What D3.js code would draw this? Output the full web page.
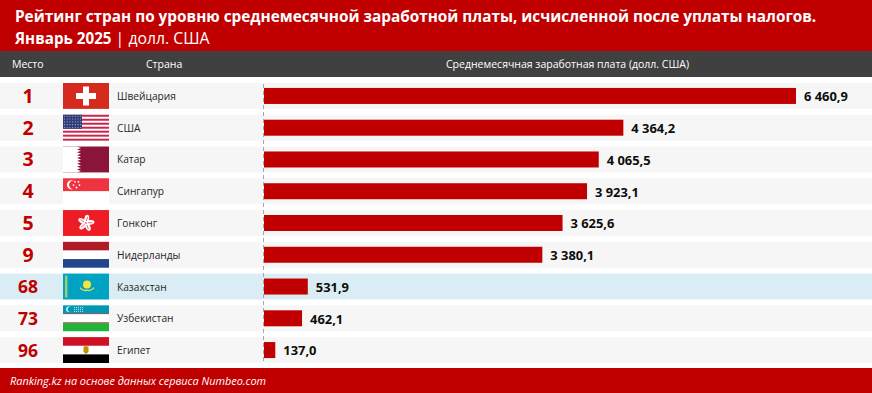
<!DOCTYPE html>
<html><head><meta charset="utf-8">
<script src="https://cdn.jsdelivr.net/npm/d3@7"></script>
<style>
html,body{margin:0;padding:0;background:#fff}
svg{display:block}
text{font-family:"Open Sans","Noto Sans",sans-serif}
</style></head><body>
<svg id="c" width="872" height="393"></svg>
<script>
const titleLine1 = "Рейтинг стран по уровню среднемесячной заработной платы, исчисленной после уплаты налогов.";
const titleBold2 = "Январь 2025";
const titleLight2 = " | долл. США";
const headers = ["Место", "Страна", "Среднемесячная заработная плата (долл. США)"];
const footer = "Ranking.kz на основе данных сервиса Numbeo.com";
const ranks = [1, 2, 3, 4, 5, 9, 68, 73, 96];
const countries = ["Швейцария", "США", "Катар", "Сингапур", "Гонконг", "Нидерланды", "Казахстан", "Узбекистан", "Египет"];
const wages = [6460.9, 4364.2, 4065.5, 3923.1, 3625.6, 3380.1, 531.9, 462.1, 137.0];
const labels = ["6 460,9", "4 364,2", "4 065,5", "3 923,1", "3 625,6", "3 380,1", "531,9", "462,1", "137,0"];
const highlighted = "Казахстан";

const svg = d3.select("#c");
const RED = "#c00000", DARK = "#404040";

svg.append("rect").attr("width", 872).attr("height", 51).attr("fill", RED);
svg.append("rect").attr("y", 51).attr("width", 872).attr("height", 26).attr("fill", DARK);
svg.append("rect").attr("y", 368).attr("width", 872).attr("height", 25).attr("fill", RED);

svg.append("text").attr("x", 15).attr("y", 22).attr("fill", "#fff").attr("font-weight", 700)
  .attr("font-size", 15.33).text(titleLine1);
const t2 = svg.append("text").attr("x", 15).attr("y", 44).attr("fill", "#fff").attr("font-size", 15.2);
t2.append("tspan").attr("font-weight", 700).text(titleBold2);
t2.append("tspan").attr("font-weight", 400).attr("font-size", 15.8).text(titleLight2);

const hdrX = [12, 146, 446];
svg.selectAll(".hdr").data(headers).join("text").attr("class", "hdr")
  .attr("x", (d, i) => hdrX[i]).attr("y", 68).attr("fill", "#fff").attr("font-size", 10.5).text(d => d);

const y = d3.scaleBand().domain(countries).range([83, 363]).paddingInner(0.185);
const x = d3.scaleLinear().domain([0, 6460.9]).range([264, 796]);

const row = svg.selectAll(".row").data(countries).join("g").attr("class", "row")
  .attr("transform", d => `translate(0,${y(d)})`);
const bw = y.bandwidth();

row.append("rect").attr("width", 872).attr("height", bw)
  .attr("fill", d => d === highlighted ? "#daedf4" : "#f6f6f6");
row.append("text").attr("x", 28).attr("y", (d, i) => bw / 2 + (ranks[i] > 9 ? 6.5 : 7))
  .attr("text-anchor", "middle")
  .attr("fill", RED).attr("font-weight", 700)
  .attr("font-size", (d, i) => ranks[i] > 9 ? 17.5 : 19.5)
  .text((d, i) => ranks[i]);
row.append("text").attr("x", 117).attr("y", bw / 2 + 4).attr("fill", "#262626")
  .attr("font-size", 10.2).text(d => d);

// flags
const flagStripes = {
  "Швейцария": ["#d52b1e"],
  "США": ["#c8264a", "#fff", "#c8264a", "#fff", "#c8264a", "#fff", "#c8264a", "#fff", "#c8264a", "#fff", "#c8264a", "#fff", "#c8264a"],
  "Катар": ["#8a1538"],
  "Сингапур": ["#ef3340", "#fff"],
  "Гонконг": ["#ee1c25"],
  "Нидерланды": ["#ae1c28", "#fff", "#21468b"],
  "Казахстан": ["#00a3c4"],
  "Узбекистан": ["#0099b5", "#ce1126", "#fff", "#ce1126", "#1eb53a"],
  "Египет": ["#ce1126", "#fff", "#000"]
};
const stripeWeights = { "Узбекистан": [8, 0.7, 8, 0.7, 8] };
const fw = 46;
row.each(function (d) {
  const g = d3.select(this).append("g").attr("transform", "translate(63,0)");
  const s = flagStripes[d];
  const w = stripeWeights[d] || s.map(() => 1);
  const total = d3.sum(w);
  let acc = 0;
  s.forEach((c, i) => {
    const h = bw * w[i] / total;
    g.append("rect").attr("y", acc).attr("width", fw).attr("height", h + (i < s.length - 1 ? 0.3 : 0)).attr("fill", c);
    acc += h;
  });
  if (d === "Швейцария") {
    g.append("rect").attr("x", 13).attr("y", 10).attr("width", 20).attr("height", 6).attr("fill", "#fff");
    g.append("rect").attr("x", 20).attr("y", 3.5).attr("width", 6).attr("height", 19).attr("fill", "#fff");
  }
  if (d === "США") {
    g.append("rect").attr("width", 19).attr("height", 14).attr("fill", "#2f3d78");
    g.append("g").selectAll("circle").data(d3.cross(d3.range(7), d3.range(5))).join("circle")
      .attr("cx", e => 1.5 + e[0] * 2.7).attr("cy", e => 1.5 + e[1] * 2.8).attr("r", 0.55).attr("fill", "#aab4d8");
  }
  if (d === "Катар") {
    g.append("rect").attr("width", 14).attr("height", bw).attr("fill", "#fff");
    const n = 9, h = bw / n;
    g.append("path").attr("fill", "#fff").attr("d",
      d3.range(n).map(i => `M14 ${i * h}L18 ${i * h + h / 2}L14 ${(i + 1) * h}Z`).join(""));
  }
  if (d === "Сингапур") {
    g.append("circle").attr("cx", 8.5).attr("cy", 6.5).attr("r", 4.6).attr("fill", "#fff");
    g.append("circle").attr("cx", 10.5).attr("cy", 6.5).attr("r", 4.4).attr("fill", "#ef3340");
    [[12, 3.5], [15.5, 3.5], [10.5, 6.8], [16.5, 6.8], [13.5, 9.2]].forEach(p =>
      g.append("circle").attr("cx", p[0]).attr("cy", p[1]).attr("r", 0.9).attr("fill", "#fff"));
  }
  if (d === "Гонконг") {
    d3.range(5).forEach(i => {
      const a = i * 72 + 10;
      g.append("ellipse").attr("cx", 23).attr("cy", 8.7).attr("rx", 2.4).attr("ry", 4.2)
        .attr("fill", "#fff").attr("transform", `rotate(${a} 23 13)`);
      g.append("line").attr("x1", 23).attr("x2", 23.6).attr("y1", 11).attr("y2", 6.5)
        .attr("stroke", "#ee1c25").attr("stroke-width", 0.6).attr("transform", `rotate(${a} 23 13)`);
    });
    g.append("circle").attr("cx", 23).attr("cy", 13).attr("r", 0.8).attr("fill", "#ee1c25");
  }
  if (d === "Казахстан") {
    g.append("rect").attr("x", 2).attr("width", 2.4).attr("y", 2).attr("height", bw - 4).attr("fill", "#9fcf6a");
    g.append("circle").attr("cx", 24).attr("cy", 11).attr("r", 4).attr("fill", "#f5e63a");
    g.append("path").attr("d", "M17 14Q20 18 24 16.5Q28 18 31 14").attr("fill", "none").attr("stroke", "#e6d84a").attr("stroke-width", 1.4);
  }
  if (d === "Узбекистан") {
    g.append("circle").attr("cx", 6).attr("cy", 4).attr("r", 2.8).attr("fill", "#fff");
    g.append("circle").attr("cx", 7.2).attr("cy", 4).attr("r", 2.6).attr("fill", "#0099b5");
    g.append("g").selectAll("circle").data(d3.cross(d3.range(5), d3.range(3))).join("circle")
      .attr("cx", e => 11.5 + e[0] * 2).attr("cy", e => 2 + e[1] * 2).attr("r", 0.55).attr("fill", "#cfe8ee");
  }
  if (d === "Египет") {
    g.append("path").attr("d", "M20.5 9.5H25.5V15L23 17L20.5 15Z").attr("fill", "#c09300");
    g.append("rect").attr("x", 22.2).attr("y", 8.5).attr("width", 1.6).attr("height", 2).attr("fill", "#c09300");
  }
});

row.append("rect").attr("x", x(0)).attr("y", (bw - 16) / 2).attr("height", 16)
  .attr("width", (d, i) => x(wages[i]) - x(0)).attr("fill", RED);
row.append("text").attr("x", (d, i) => x(wages[i]) + 8).attr("y", bw / 2 + 5.3)
  .attr("fill", "#0d0d0d").attr("font-weight", 700).attr("font-size", 12.9)
  .text((d, i) => labels[i]);

svg.append("line").attr("x1", 263.5).attr("x2", 263.5).attr("y1", 84).attr("y2", 362)
  .attr("stroke", "#a6a6a6").attr("stroke-width", 1).attr("stroke-dasharray", "4 3");

svg.append("text").attr("x", 10).attr("y", 385).attr("fill", "#fff").attr("font-style", "italic")
  .attr("font-weight", 400).attr("font-size", 10.9).text(footer);
</script>
</body></html>
